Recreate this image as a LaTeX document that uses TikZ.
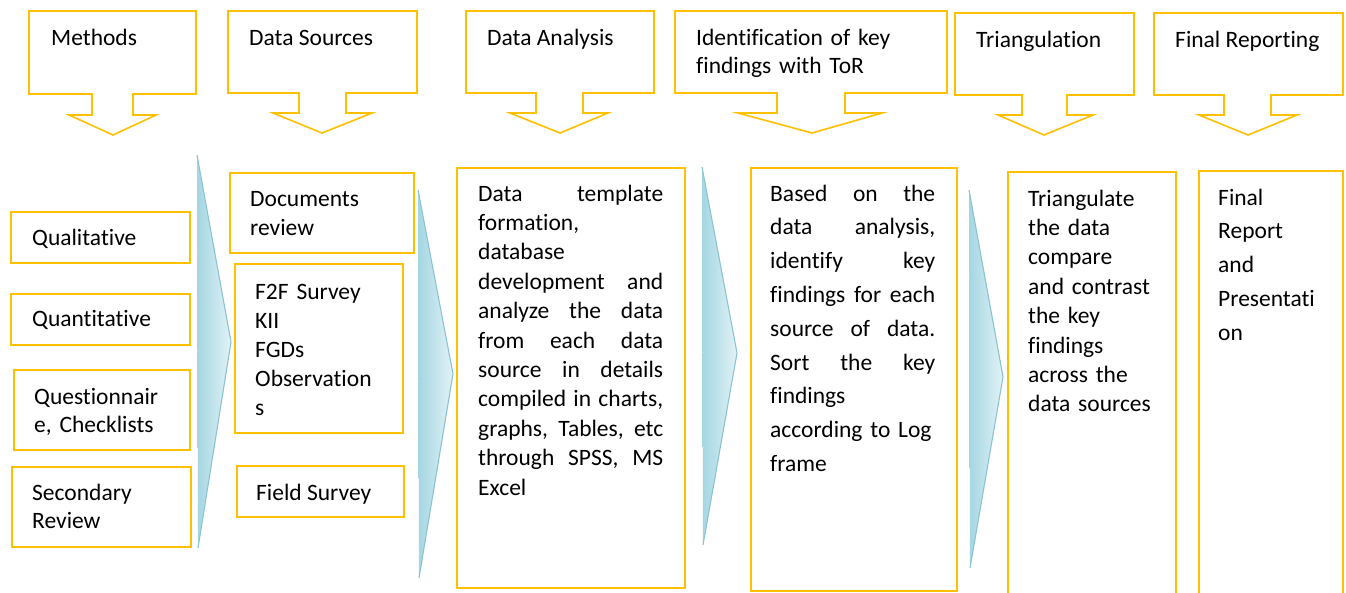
\documentclass[tikz,border=0pt]{standalone}
\usepackage{fontspec}
\setmainfont[Ligatures=NoCommon]{Carlito}
\definecolor{gold}{RGB}{255,192,0}
\definecolor{chevA}{RGB}{164,214,226}
\definecolor{chevB}{RGB}{226,242,246}
\definecolor{chevEdge}{RGB}{138,196,210}
\tikzset{
  frame/.style={draw=gold, line width=1.6pt, line join=miter, anchor=north west, inner sep=0pt},
  callout/.style={draw=gold, line width=1.6pt, line join=miter},
  txt/.style={font=\fontsize{23.5}{29.4}\selectfont, inner sep=0pt, anchor=base west, align=left},
  wide/.style={font=\fontsize{23.5}{33.8}\selectfont},
}
\begin{document}
\begin{tikzpicture}[x=1pt,y=-1pt]
\clip (0,0) rectangle (1346,592);
\fill[white] (0,0) rectangle (1346,592);

% header callouts: box, stem, arrow head
\foreach \xa/\xb/\ya/\yb/\sa/\sb/\ys/\wa/\wb/\tx/\ty in {
  29/196/11/94/92/133/115/69/156/113/135,
  228/417/11/93/299/346/113/273/372/322/133,
  466/654/11/93/536/583/113/510/608/560/133,
  675/947/11/93/777/845/113/738/882/812/133,
  955/1134/13/95/1022/1067/115/998/1093/1044/135,
  1154/1343/13/95/1224/1271/115/1199/1297/1248/135}{
  \draw[callout] (\xa,\ya) -- (\xb,\ya) -- (\xb,\yb) -- (\sb,\yb) -- (\sb,\ys)
    -- (\wb,\ys) -- (\tx,\ty) -- (\wa,\ys) -- (\sa,\ys) -- (\sa,\yb) -- (\xa,\yb) -- cycle;
}
\node[txt] (hMethods) at (51,45) {Methods};
\node[txt] (hSources) at (249,45) {Data Sources};
\node[txt] (hAnalysis) at (487,45) {Data Analysis};
\node[txt, text width=240pt, font=\fontsize{23.5}{28.5}\selectfont] (hFindings) at (696,45) {Identification of key\\findings with ToR};
\node[txt] (hTriang) at (976,47) {Triangulation};
\node[txt] (hReport) at (1175,47) {Final Reporting};

% chevrons between the columns
\foreach \ax/\ay/\px/\py/\bx/\by in {
  197/155/231/342/198/548,
  418/190/453/374/419/578,
  702/167/737/353/703/545,
  969/190/1003/377/970/568}{
  \shade[left color=chevA, right color=chevB] (\ax,\ay) -- (\px,\py) -- (\bx,\by) -- cycle;
  \draw[chevEdge, line width=1.1pt, line join=round] (\ax,\ay) -- (\px,\py) -- (\bx,\by);
}

% column 1: methods
\node[frame, minimum width=179pt, minimum height=51pt] (qual) at (10,211) {};
\node[frame, minimum width=179pt, minimum height=51pt] (quant) at (10,293) {};
\node[frame, minimum width=176pt, minimum height=80pt] (quest) at (13,369) {};
\node[frame, minimum width=179pt, minimum height=80pt] (second) at (11,466) {};
\node[txt] (tQual) at (32,245) {Qualitative};
\node[txt] (tQuant) at (32,326) {Quantitative};
\node[txt, text width=150pt, font=\fontsize{23.5}{28}\selectfont] (tQuest) at (34,404) {Questionnair\\e, Checklists};
\node[txt, text width=150pt, font=\fontsize{23.5}{28}\selectfont] (tSecond) at (32,500) {Secondary\\Review};

% column 2: data sources
\node[frame, minimum width=184pt, minimum height=80pt] (docs) at (229,172) {};
\node[frame, minimum width=168pt, minimum height=169pt] (survey) at (234,263) {};
\node[frame, minimum width=167pt, minimum height=51pt] (field) at (236,465) {};
\node[txt, text width=150pt, font=\fontsize{23.5}{29}\selectfont] (tDocs) at (250,206) {Documents\\review};
\node[txt, text width=140pt, font=\fontsize{23.5}{29}\selectfont] (tSurvey) at (255,299) {F2F Survey\\KII\\FGDs\\Observation\\s};
\node[txt] (tField) at (256,500) {Field Survey};

% column 3: data analysis
\node[frame, minimum width=228pt, minimum height=420pt] (analysis) at (456,167) {};
\node[txt, text width=185pt] (tAnalysis) at (478,201) {%
Data\hfill template\\
formation,\\
database\\
development\hfill and\\
analyze\hfill the\hfill data\\
from\hfill each\hfill data\\
source\hfill in\hfill details\\
compiled\hfill in\hfill charts,\\
graphs,\hfill Tables,\hfill etc\\
through\hfill SPSS,\hfill MS\\
Excel};

% column 4: key findings
\node[frame, minimum width=206pt, minimum height=423pt] (findings) at (750,167) {};
\node[txt, wide, text width=165pt] (tFindings) at (770,201) {%
Based\hfill on\hfill the\\
data\hfill analysis,\\
identify\hfill key\\
findings\hfill for\hfill each\\
source\hfill of\hfill data.\\
Sort\hfill the\hfill key\\
findings\\
according to Log\\
frame};

% column 5: triangulation
\node[frame, minimum width=168pt, minimum height=440pt] (triang) at (1007,171) {};
\node[txt, text width=140pt] (tTriang) at (1028,206) {Triangulate\\the data\\compare\\and contrast\\the key\\findings\\across the\\data sources};

% column 6: final reporting
\node[frame, minimum width=144pt, minimum height=440pt] (report) at (1198,170) {};
\node[txt, wide, text width=120pt] (tReport) at (1218,205) {Final\\Report\\and\\Presentati\\on};
\end{tikzpicture}
\end{document}
